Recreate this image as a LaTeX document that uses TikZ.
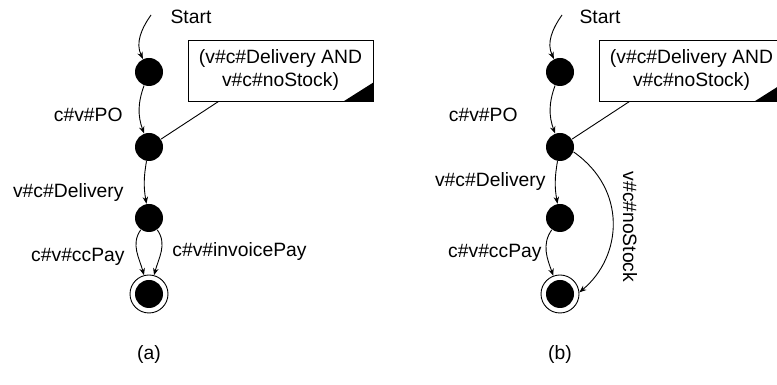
\documentclass[tikz,border=0pt]{standalone}
\usepackage{fontspec}
\setmainfont{Liberation Sans}
\usetikzlibrary{arrows.meta}

\begin{document}
\begin{tikzpicture} [x=1pt, y=1pt, align=center, line width=0.9pt,
	font=\fontsize{19.3}{23}\selectfont, >={Stealth[length=7pt, width=5.5pt]},
	st/.style={circle, fill, minimum size=28pt, inner sep=0pt},
	fin/.style={circle, draw, minimum size=38pt, inner sep=0pt,
		path picture={\fill (path picture bounding box.center) circle (14pt);}},
	cond/.style={rectangle, draw, minimum width=185pt, minimum height=61pt, inner sep=0pt},
	lbl/.style={inner sep=0pt}]
\useasboundingbox (0,0) rectangle (777,385);

% left: (a)
\path (191,368) node (s0) {Start}
	  (149,30) node (c0) {(a)};
\coordinate (in0) at (151,370);

\path (149,313) node[st] (v0) {}
	  (149,238) node[st] (v1) {}
	  (149,167) node[st] (v2) {}
	  (149,91) node[fin] (v3) {};

\path (280.5,314.5) node[cond] (g0) {(v\#c\#Delivery AND\\v\#c\#noStock)};
\fill (g0.south east) -- ++(-30,0) -- ++(30,19) -- cycle;
\draw (v1) -- ([xshift=31pt]g0.south west);

\path (123,270) node[lbl, anchor=east] (l0) {c\#v\#PO}
	  (124,192) node[lbl, anchor=east] (l1) {v\#c\#Delivery}
	  (125,128) node[lbl, anchor=east] (l2) {c\#v\#ccPay}
	  (172,133) node[lbl, anchor=west] (l3) {c\#v\#invoicePay};

\draw[->] (in0) to[out=235, in=115] (v0);
\draw[->] (v0) to[out=250, in=110] (v1);
\draw[->] (v1) to[out=260, in=100] (v2);
\draw[->] (v2) to[out=235, in=105] (v3);
\draw[->] (v2) to[out=-55, in=75] (v3);

% right: (b)
\path (600,368) node (s1) {Start}
	  (560,30) node (c1) {(b)};
\coordinate (in1) at (562,370);

\path (560,313) node[st] (w0) {}
	  (560,238) node[st] (w1) {}
	  (560,167) node[st] (w2) {}
	  (560,91) node[fin] (w3) {};

\path (691.5,314.5) node[cond] (g1) {(v\#c\#Delivery AND\\v\#c\#noStock)};
\fill (g1.south east) -- ++(-30,0) -- ++(30,19) -- cycle;
\draw (w1) -- ([xshift=31pt]g1.south west);

\path (518,270) node[lbl, anchor=east] (m0) {c\#v\#PO}
	  (546,203) node[lbl, anchor=east] (m1) {v\#c\#Delivery}
	  (542,132) node[lbl, anchor=east] (m2) {c\#v\#ccPay}
	  (630,158) node[lbl, rotate=-90] (m3) {v\#c\#noStock};

\draw[->] (in1) to[out=235, in=115] (w0);
\draw[->] (w0) to[out=250, in=110] (w1);
\draw[->] (w1) to[out=260, in=100] (w2);
\draw[->] (w2) to[out=235, in=110] (w3);
\draw[->] (w1.-20) .. controls (628,195) and (622,128) .. (w3.5);
\end{tikzpicture}
\end{document}
